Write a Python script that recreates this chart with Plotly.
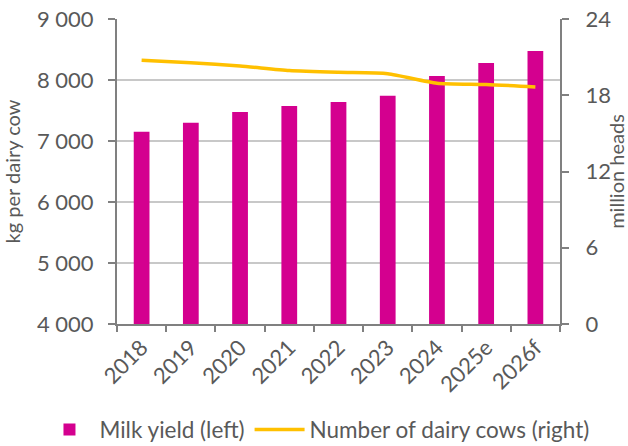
import plotly.graph_objects as go

years = ["2018", "2019", "2020", "2021", "2022", "2023", "2024", "2025e", "2026f"]
milk_yield = [7150, 7300, 7475, 7575, 7640, 7740, 8065, 8280, 8475]
dairy_cows = [20.75, 20.55, 20.3, 19.95, 19.8, 19.7, 18.95, 18.85, 18.65]

font_color = "#595959"
axis_color = "#808080"
grid_color = "#c8c8c8"
font_family = "Lato, Open Sans, sans-serif"

fig = go.Figure()
fig.add_trace(go.Bar(
    x=years, y=milk_yield, name="Milk yield (left)",
    marker=dict(color="#D4008F", line=dict(width=0)),
    width=0.32, yaxis="y",
))
fig.add_trace(go.Scatter(
    x=years, y=dairy_cows, name="Number of dairy cows (right)",
    mode="lines", line=dict(color="#FFC000", width=3.5, shape="spline", smoothing=0.6),
    yaxis="y2",
))

fig.update_layout(
    width=628, height=446,
    margin=dict(l=117, r=68, t=19, b=122, autoexpand=False),
    paper_bgcolor="white", plot_bgcolor="white",
    font=dict(family=font_family, color=font_color, size=20),
    separators=". ",
    showlegend=True,
    legend=dict(orientation="h", x=-0.175, xanchor="left", y=-0.3475, yanchor="middle",
                font=dict(size=22.5), itemwidth=50, tracegroupgap=0),
    xaxis=dict(
        type="category", tickangle=-45, showline=True, linecolor=axis_color, linewidth=2,
        ticks="outside", tickson="boundaries", ticklen=6, tickcolor=axis_color, tickwidth=2,
        tickfont=dict(size=22), showgrid=False, automargin=False,
    ),
    yaxis=dict(
        range=[4000, 9000], tickvals=[4000, 5000, 6000, 7000, 8000, 9000], tickformat=",",
        showline=True, linecolor=axis_color, linewidth=2, ticks="outside", ticklen=7,
        tickcolor=axis_color, tickwidth=2, showgrid=True, gridcolor=grid_color, gridwidth=1.5,
        tickfont=dict(size=22), zeroline=False, automargin=False, ticklabelstandoff=10,
        title=dict(text="kg per dairy cow", font=dict(size=20), standoff=16),
    ),
    yaxis2=dict(
        range=[0, 24], tickvals=[0, 6, 12, 18, 24], overlaying="y", side="right",
        showline=True, linecolor=axis_color, linewidth=2, ticks="outside", ticklen=7,
        tickcolor=axis_color, tickwidth=2, showgrid=False, zeroline=False,
        tickfont=dict(size=22), automargin=False, ticklabelstandoff=12,
        title=dict(text="million heads", font=dict(size=20), standoff=4),
    ),
)

fig.write_html("out.html")
